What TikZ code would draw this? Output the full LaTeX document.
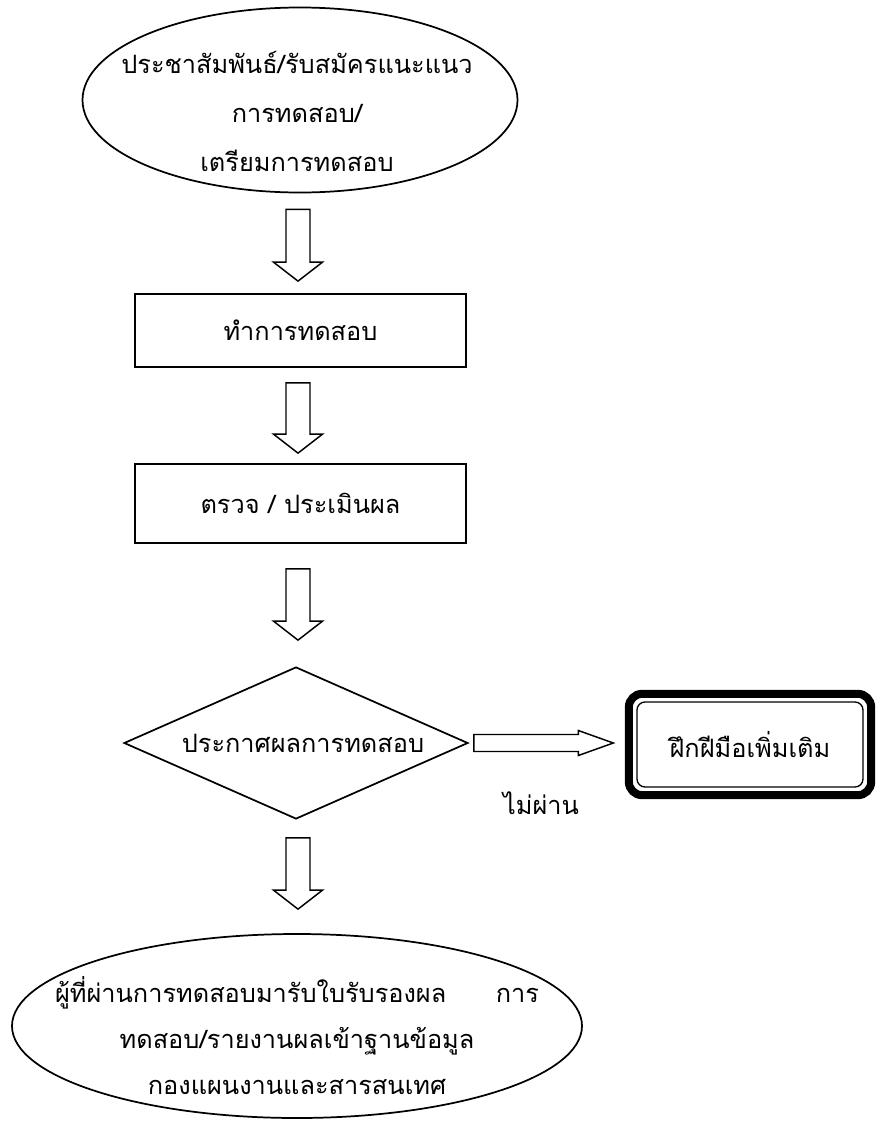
\documentclass[tikz,border=0pt]{standalone}
\usepackage{fontspec}
\newfontfamily\thaifont[Script=Thai]{Loma}
\usetikzlibrary{shapes.geometric,calc}
\newcommand\vblockarrow[2]{%
  \draw[blockline] ($(#1)+(-12,0)$) -- ($(#2)+(-12,-19)$) -- ($(#2)+(-24.5,-19)$) -- (#2)
    -- ($(#2)+(24.5,-19)$) -- ($(#2)+(12,-19)$) -- ($(#1)+(12,0)$) -- cycle;}
\newcommand\hblockarrow[2]{%
  \draw[blockline] ($(#1)+(0,-8.5)$) -- ($(#2)+(-35,-8.5)$) -- ($(#2)+(-35,-12.5)$) -- (#2)
    -- ($(#2)+(-35,12.5)$) -- ($(#2)+(-35,8.5)$) -- ($(#1)+(0,8.5)$) -- cycle;}
\begin{document}
\begin{tikzpicture}[x=0.75pt,y=-0.75pt,
  every node/.style={font=\thaifont\fontsize{19}{24}\selectfont, text=black},
  shapeline/.style={draw=black, line width=1.3pt},
  rectbox/.style={shapeline, rectangle, inner sep=0pt},
  blockline/.style={draw=black, line width=1.1pt, line join=miter, fill=white},
  toplines/.style={align=center, font=\thaifont\fontsize{19}{36.75}\selectfont},
  botlines/.style={align=center, font=\thaifont\fontsize{19}{34.5}\selectfont}]
\useasboundingbox (0,0) rectangle (875,1121);
\fill[white] (0,0) rectangle (875,1121);

% top ellipse
\node[ellipse, shapeline, minimum width=326.25pt, minimum height=138.75pt, inner sep=0pt] (e1) at (300,100) {};
\node[toplines] (e1t) at (297,111) {ประชาสัมพันธ์/รับสมัครแนะแนว\\การทดสอบ/\\เตรียมการทดสอบ};

% boxes
\node[rectbox, minimum width=248.25pt, minimum height=54.75pt] (b1) at (300.5,330.5) {ทำการทดสอบ\hspace{30pt}};
\node[rectbox, minimum width=248.25pt, minimum height=59.25pt] (b2) at (300.5,503.5) {ตรวจ / ประเมินผล};

% diamond
\node[diamond, shapeline, minimum width=258pt, minimum height=114pt, inner sep=0pt] (d) at (296,743) {};
\node (dt) at (303,743) {ประกาศผลการทดสอบ};

% double framed box
\node[draw=black, line width=1pt, rounded corners=6pt, minimum width=169.5pt, minimum height=63.75pt, inner sep=0pt] (fb) at (750,744.5) {ฝึกฝีมือเพิ่มเติม};
\draw[line width=6pt, rounded corners=10pt] ($(fb.north west)+(-7.5,-7.5)$) rectangle ($(fb.south east)+(7.5,7.5)$);

\node (nl) at (541,803) {ไม่ผ่าน};

% bottom ellipse
\node[ellipse, shapeline, minimum width=427.5pt, minimum height=138pt, inner sep=0pt] (e2) at (297,1026) {};
\node[botlines] (e2t) at (297,1036) {\makebox[363pt]{ผู้ที่ผ่านการทดสอบมารับใบรับรองผล\hfill การ}\\ทดสอบ/รายงานผลเข้าฐานข้อมูล\\กองแผนงานและสารสนเทศ};

% connector end points
\coordinate (a1s) at ($(e1.south)+(-2,16)$);
\coordinate (a1e) at ($(b1.north)+(-2.5,-12)$);
\coordinate (a2s) at ($(b1.south)+(-2.5,15)$);
\coordinate (a2e) at ($(b2.north)+(-2.5,-10)$);
\coordinate (a3s) at ($(b2.south)+(-2.5,25)$);
\coordinate (a3e) at ($(d.north)+(2,-26)$);
\coordinate (a4s) at ($(d.south)+(2,18)$);
\coordinate (a4e) at ($(e2.north)+(1,-24)$);
\coordinate (hs) at ($(d.east)+(5,0)$);
\coordinate (he) at ($(fb.west)+(-23,-1.5)$);

\vblockarrow{a1s}{a1e}
\vblockarrow{a2s}{a2e}
\vblockarrow{a3s}{a3e}
\vblockarrow{a4s}{a4e}
\hblockarrow{hs}{he}
\end{tikzpicture}
\end{document}
